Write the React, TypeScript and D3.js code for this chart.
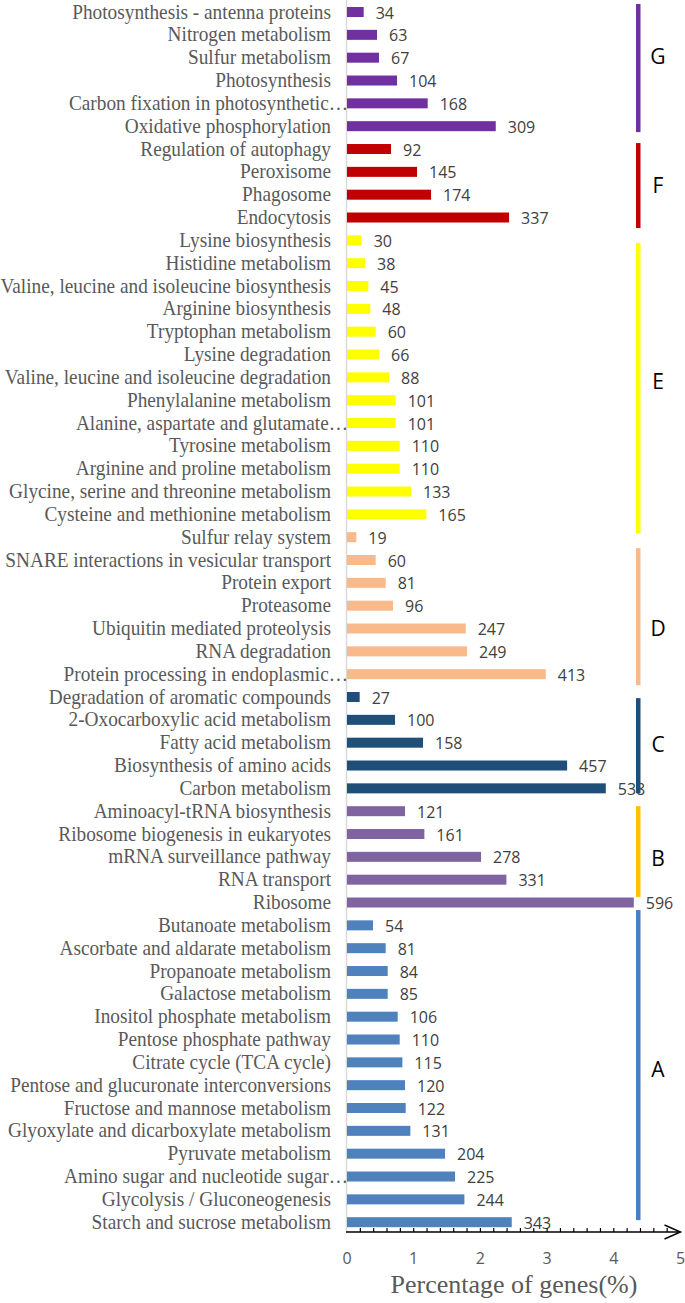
import React from "react";
import * as d3 from "d3";

const categories = [
  "Photosynthesis - antenna proteins",
  "Nitrogen metabolism",
  "Sulfur metabolism",
  "Photosynthesis",
  "Carbon fixation in photosynthetic…",
  "Oxidative phosphorylation",
  "Regulation of autophagy",
  "Peroxisome",
  "Phagosome",
  "Endocytosis",
  "Lysine biosynthesis",
  "Histidine metabolism",
  "Valine, leucine and isoleucine biosynthesis",
  "Arginine biosynthesis",
  "Tryptophan metabolism",
  "Lysine degradation",
  "Valine, leucine and isoleucine degradation",
  "Phenylalanine metabolism",
  "Alanine, aspartate and glutamate…",
  "Tyrosine metabolism",
  "Arginine and proline metabolism",
  "Glycine, serine and threonine metabolism",
  "Cysteine and methionine metabolism",
  "Sulfur relay system",
  "SNARE interactions in vesicular transport",
  "Protein export",
  "Proteasome",
  "Ubiquitin mediated proteolysis",
  "RNA degradation",
  "Protein processing in endoplasmic…",
  "Degradation of aromatic compounds",
  "2-Oxocarboxylic acid metabolism",
  "Fatty acid metabolism",
  "Biosynthesis of amino acids",
  "Carbon metabolism",
  "Aminoacyl-tRNA biosynthesis",
  "Ribosome biogenesis in eukaryotes",
  "mRNA surveillance pathway",
  "RNA transport",
  "Ribosome",
  "Butanoate metabolism",
  "Ascorbate and aldarate metabolism",
  "Propanoate metabolism",
  "Galactose metabolism",
  "Inositol phosphate metabolism",
  "Pentose phosphate pathway",
  "Citrate cycle (TCA cycle)",
  "Pentose and glucuronate interconversions",
  "Fructose and mannose metabolism",
  "Glyoxylate and dicarboxylate metabolism",
  "Pyruvate metabolism",
  "Amino sugar and nucleotide sugar…",
  "Glycolysis / Gluconeogenesis",
  "Starch and sucrose metabolism",
];

const geneCounts = [
  34, 63, 67, 104, 168, 309,
  92, 145, 174, 337,
  30, 38, 45, 48, 60, 66, 88, 101, 101, 110, 110, 133, 165,
  19, 60, 81, 96, 247, 249, 413,
  27, 100, 158, 457, 538,
  121, 161, 278, 331, 596,
  54, 81, 84, 85, 106, 110, 115, 120, 122, 131, 204, 225, 244, 343,
];

const percentages = [
  0.25, 0.45, 0.48, 0.75, 1.21, 2.23,
  0.66, 1.05, 1.26, 2.43,
  0.22, 0.27, 0.32, 0.35, 0.43, 0.48, 0.63, 0.73, 0.73, 0.79, 0.79, 0.96, 1.19,
  0.14, 0.43, 0.58, 0.69, 1.78, 1.80, 2.98,
  0.19, 0.72, 1.14, 3.30, 3.88,
  0.87, 1.16, 2.01, 2.39, 4.30,
  0.39, 0.58, 0.61, 0.61, 0.76, 0.79, 0.83, 0.87, 0.88, 0.95, 1.47, 1.62, 1.76, 2.47,
];

const barGroups = [
  "G", "G", "G", "G", "G", "G",
  "F", "F", "F", "F",
  "E", "E", "E", "E", "E", "E", "E", "E", "E", "E", "E", "E", "E",
  "D", "D", "D", "D", "D", "D", "D",
  "C", "C", "C", "C", "C",
  "B", "B", "B", "B", "B",
  "A", "A", "A", "A", "A", "A", "A", "A", "A", "A", "A", "A", "A", "A",
];

const groupLetters = ["G", "F", "E", "D", "C", "B", "A"];
const groupBarColors = ["#7030A0", "#C00000", "#FFFF00", "#F8B98B", "#1F4E79", "#8064A2", "#4F81BD"];
const groupLineColors = ["#7030A0", "#C00000", "#FFFF00", "#F8B98B", "#1F4E79", "#FFC000", "#4A7EC3"];
// bracket extents and letter positions, in row-centre units
const groupSpanStart = [-0.35, 5.74, 10.12, 23.48, 30.05, 34.78, 39.33];
const groupSpanEnd = [5.26, 9.46, 22.82, 29.48, 34.21, 38.76, 52.91];
const groupLetterRow = [1.93, 7.58, 16.2, 26.98, 32.1, 37.06, 46.3];

const xTicks = [0, 1, 2, 3, 4, 5];
const xMinorTicks = d3.range(1, 25).map((i) => i / 5);

const W = 685;
const H = 1303;

export default function App() {
  const x = d3.scaleLinear().domain([0, 5]).range([347, 680.5]);
  const y = d3.scaleBand().domain(categories).range([0.6, 1233.6]).padding(0);
  const row = d3.scaleLinear().domain([0, categories.length]).range([0.6, 1233.6]);
  const bw = y.bandwidth();
  const barH = 10;
  const axisY = 1232;
  const colorOf = (g: string) => groupBarColors[groupLetters.indexOf(g)];

  return (
    <svg
      width={W}
      height={H}
      style={{ position: "absolute", left: 0, top: 0, display: "block", background: "#fff" }}
    >
      <rect x={0} y={0} width={W} height={H} fill="#fff" />
      {/* vertical axis */}
      <line x1={x(0) - 0.5} x2={x(0) - 0.5} y1={0} y2={axisY} stroke="#d9d9d9" strokeWidth={1.5} />

      {/* bars */}
      {categories.map((c, i) => (
        <rect
          key={"b" + i}
          x={x(0)}
          y={(y(c) as number) + (bw - barH) / 2}
          width={x(percentages[i]) - x(0)}
          height={barH}
          fill={colorOf(barGroups[i])}
        />
      ))}

      {/* category labels */}
      {categories.map((c, i) => {
        const cy = (y(c) as number) + bw / 2;
        const ell = c.endsWith("…");
        return (
          <text
            key={"l" + i}
            transform={`translate(${ell ? 348 : 331},${cy + 6.5}) scale(1,1.06)`}
            textAnchor="end"
            fontFamily="'Liberation Serif', 'Times New Roman', serif"
            fontSize={19.3}
            fill="#595959"
          >
            {c}
          </text>
        );
      })}

      {/* value labels */}
      {categories.map((c, i) => {
        const cy = (y(c) as number) + bw / 2;
        return (
          <text
            key={"v" + i}
            x={x(percentages[i]) + 12}
            y={cy + 6.5}
            fontFamily="'Open Sans', sans-serif"
            fontSize={16}
            fill="#404040"
          >
            {geneCounts[i]}
          </text>
        );
      })}

      {/* brackets */}
      {groupLetters.map((g, k) => {
        const y1 = row(groupSpanStart[k] + 0.5);
        const y2 = row(groupSpanEnd[k] + 0.5);
        return (
          <g key={"g" + k}>
            <rect x={636} y={y1} width={4.5} height={y2 - y1} fill={groupLineColors[k]} />
            <text
              x={658}
              y={row(groupLetterRow[k] + 0.5) + 7.5}
              textAnchor="middle"
              fontFamily="'Open Sans', sans-serif"
              fontSize={21}
              fill="#000"
            >
              {g}
            </text>
          </g>
        );
      })}

      {/* x axis */}
      <line x1={x(0) - 1} x2={x(5)} y1={axisY} y2={axisY} stroke="#000" strokeWidth={1.4} />
      {xMinorTicks.map((t) => (
        <line key={"t" + t} x1={x(t)} x2={x(t)} y1={axisY - 4} y2={axisY} stroke="#000" strokeWidth={1.2} />
      ))}
      <polyline
        points={`${x(5) - 16},${axisY - 7} ${x(5)},${axisY} ${x(5) - 16},${axisY + 7}`}
        fill="none"
        stroke="#000"
        strokeWidth={1.4}
      />
      {xTicks.map((t) => (
        <text
          key={"xl" + t}
          x={x(t)}
          y={1264}
          textAnchor="middle"
          fontFamily="'Open Sans', sans-serif"
          fontSize={16}
          fill="#595959"
        >
          {t}
        </text>
      ))}
      <text
        x={514}
        y={1293}
        textAnchor="middle"
        fontFamily="'Liberation Serif', 'Times New Roman', serif"
        fontSize={26}
        fill="#595959"
      >
        Percentage of genes(%)
      </text>
    </svg>
  );
}
